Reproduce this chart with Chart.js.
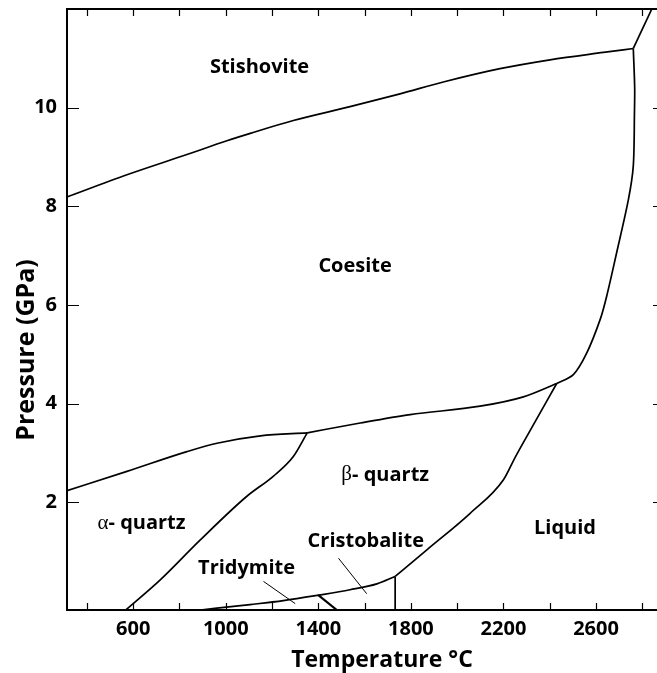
<!DOCTYPE html>
<html>
<head>
<meta charset="utf-8">
<script src="https://cdn.jsdelivr.net/npm/chart.js@4/dist/chart.umd.min.js"></script>
<style>
  html, body { margin: 0; padding: 0; background: #fff; overflow: hidden; }
</style>
</head>
<body>
<canvas id="phaseChart" width="680" height="673"></canvas>
<script>
//------------------------- AXES ----------------------------------------------

var tempTicks = [400, 600, 800, 1000, 1200, 1400, 1600, 1800, 2000, 2200, 2400, 2600, 2800];
var tempTickLabels = ['', '600', '', '1000', '', '1400', '', '1800', '', '2200', '', '2600', ''];
var pressTicks = [2, 4, 6, 8, 10];
var pressTickLabels = ['2', '4', '6', '8', '10'];
var xTitle = 'Temperature °C';
var yTitle = 'Pressure (GPa)';

//------------------------- PHASE BOUNDARIES (T in °C, P in GPa) --------------

// coesite / stishovite
var stishT = [314, 573, 832, 1005, 1106, 1292, 1537, 1753, 1940, 2185, 2401, 2632, 2761];
var stishP = [8.19, 8.64, 9.05, 9.33, 9.48, 9.74, 10.02, 10.28, 10.52, 10.79, 10.97, 11.12, 11.20];
// stishovite / liquid
var stishLiqT = [2761, 2841];
var stishLiqP = [11.20, 12.0];
// coesite / liquid (not a function of T, drawn top to bottom)
var coesLiqT = [2761, 2767, 2766, 2761, 2740, 2689, 2646, 2618, 2560, 2502, 2430];
var coesLiqP = [11.20, 10.40, 9.90, 8.82, 8.14, 7.06, 6.18, 5.71, 5.03, 4.59, 4.41];
// alpha quartz / coesite
var alphaCoesT = [314, 573, 832, 962, 1150, 1352];
var alphaCoesP = [2.24, 2.63, 3.03, 3.20, 3.35, 3.41];
// beta quartz / coesite
var betaCoesT = [1352, 1581, 1797, 2099, 2286, 2430];
var betaCoesP = [3.41, 3.61, 3.78, 3.95, 4.14, 4.41];
// alpha / beta quartz
var alphaBetaT = [568, 717, 890, 1090, 1205, 1292, 1352];
var alphaBetaP = [-0.18, 0.43, 1.24, 2.12, 2.53, 2.93, 3.41];
// beta quartz / liquid
var betaLiqT = [1732, 1869, 2056, 2200, 2250, 2301, 2430];
var betaLiqP = [0.50, 1.04, 1.78, 2.46, 2.91, 3.34, 4.41];
// cristobalite / liquid
var cristLiqT = [1732, 1732];
var cristLiqP = [0.50, -0.18];
// beta quartz / tridymite + cristobalite
var lowT = [890, 1105, 1249, 1400, 1537, 1653, 1732];
var lowP = [-0.18, -0.07, 0.01, 0.12, 0.23, 0.35, 0.50];
// tridymite / cristobalite
var tridCristT = [1400, 1480];
var tridCristP = [0.12, -0.18];

//------------------------- REGION NAMES -------------------------------------

var regionNames = ['Stishovite', 'Coesite', 'β- quartz', 'α- quartz', 'Tridymite', 'Cristobalite', 'Liquid'];
var regionT = [1146, 1559, 1689, 636, 1090, 1605, 2466];
var regionP = [10.82, 6.78, 2.56, 1.57, 0.67, 1.21, 1.48];

// leader lines from labels to the small fields
var tridLeaderT = [1163, 1300];
var tridLeaderP = [0.40, -0.05];
var cristLeaderT = [1487, 1609];
var cristLeaderP = [0.87, 0.15];

//------------------------- BUILD CHART --------------------------------------

function pts(ts, ps) {
    var out = [];
    for (let i = 0; i < ts.length; i++) {
        out.push({ x: ts[i], y: ps[i] });
    }
    return out;
}

function line(ts, ps, width, mode) {
    var ds = {
        data: pts(ts, ps),
        showLine: true,
        borderColor: '#000',
        borderWidth: width,
        pointRadius: 0,
        tension: 0,
        fill: false
    };
    if (mode == 'mono') {
        ds.cubicInterpolationMode = 'monotone';
        ds.tension = 0.4;
    } else if (mode == 'spline') {
        ds.tension = 0.3;
    }
    return ds;
}

var boldFont = '"Open Sans", "DejaVu Sans", sans-serif';

// frame, inward ticks, axis titles and region names
var phasePlugin = {
    id: 'phasePlugin',
    afterDatasetsDraw(chart) {
        var ctx = chart.ctx;
        var a = chart.chartArea;
        var xs = chart.scales.x;
        var ys = chart.scales.y;
        ctx.save();
        ctx.strokeStyle = '#000';
        ctx.lineWidth = 2;
        ctx.strokeRect(a.left, a.top, a.right - a.left, a.bottom - a.top);

        ctx.lineWidth = 1.2;
        ctx.beginPath();
        for (let i = 0; i < tempTicks.length; i++) {
            let px = Math.round(xs.getPixelForValue(tempTicks[i])) + 0.5;
            ctx.moveTo(px, a.bottom);
            ctx.lineTo(px, a.bottom - 7);
            ctx.moveTo(px, a.top);
            ctx.lineTo(px, a.top + 7);
        }
        for (let i = 0; i < pressTicks.length; i++) {
            let py = Math.round(ys.getPixelForValue(pressTicks[i])) + 0.5;
            ctx.moveTo(a.left, py);
            ctx.lineTo(a.left + 12, py);
            ctx.moveTo(a.right, py);
            ctx.lineTo(a.right - 12, py);
        }
        ctx.stroke();

        ctx.fillStyle = '#000';
        ctx.textBaseline = 'middle';

        // axis titles
        ctx.textAlign = 'center';
        ctx.font = 'bold 23px ' + boldFont;
        ctx.fillText(xTitle, a.left + 315, a.bottom + 50);
        ctx.save();
        ctx.translate(27, a.top + 341);
        ctx.rotate(-Math.PI / 2);
        ctx.font = 'bold 25px ' + boldFont;
        ctx.fillText(yTitle, 0, 0);
        ctx.restore();

        ctx.textAlign = 'left';
        for (let i = 0; i < regionNames.length; i++) {
            let cx = xs.getPixelForValue(regionT[i]);
            let cy = ys.getPixelForValue(regionP[i]);
            let name = regionNames[i];
            let greek = '';
            if (name[0] == 'α' || name[0] == 'β') {
                greek = name[0];
                name = name.slice(1);
            }
            let gFont = '21px "Liberation Serif", serif';
            let bFont = 'bold 20px ' + boldFont;
            ctx.font = gFont;
            let gw = greek ? ctx.measureText(greek).width : 0;
            ctx.font = bFont;
            let bw = ctx.measureText(name).width;
            let x0 = cx - (gw + bw) / 2;
            if (greek) {
                ctx.font = gFont;
                ctx.fillText(greek, x0, cy);
            }
            ctx.font = bFont;
            ctx.fillText(name, x0 + gw, cy);
        }
        ctx.restore();
    }
};

var ctx = document.getElementById('phaseChart').getContext('2d');
var chart = new Chart(ctx, {
    type: 'scatter',
    data: {
        datasets: [
            line(stishT, stishP, 1.7, 'mono'),
            line(stishLiqT, stishLiqP, 1.7, 'straight'),
            line(coesLiqT, coesLiqP, 1.7, 'spline'),
            line(alphaCoesT, alphaCoesP, 1.7, 'mono'),
            line(betaCoesT, betaCoesP, 1.7, 'mono'),
            line(alphaBetaT, alphaBetaP, 1.7, 'mono'),
            line(betaLiqT, betaLiqP, 1.7, 'mono'),
            line(cristLiqT, cristLiqP, 1.7, 'straight'),
            line(lowT, lowP, 1.7, 'mono'),
            line(tridCristT, tridCristP, 2.2, 'straight'),
            line(tridLeaderT, tridLeaderP, 1, 'straight'),
            line(cristLeaderT, cristLeaderP, 1, 'straight')
        ]
    },
    options: {
        responsive: false,
        animation: false,
        devicePixelRatio: 1,
        layout: { padding: { top: 9, right: 15, left: 0, bottom: 0 } },
        plugins: { legend: { display: false }, tooltip: { enabled: false } },
        scales: {
            x: {
                type: 'linear',
                position: 'bottom',
                min: 314,
                max: 2898,
                grid: { display: false, drawTicks: false },
                border: { display: false },
                ticks: {
                    color: '#000',
                    font: { family: boldFont, weight: 'bold', size: 20 },
                    padding: 7,
                    maxRotation: 0,
                    autoSkip: false,
                    callback: function (value) {
                        let k = tempTicks.indexOf(value);
                        return k >= 0 ? tempTickLabels[k] : '';
                    }
                },
                afterBuildTicks: function (scale) {
                    scale.ticks = tempTicks.map(v => ({ value: v }));
                },
                afterFit: function (scale) {
                    scale.height = 63;
                    scale.paddingLeft = 0;
                    scale.paddingRight = 0;
                }
            },
            y: {
                type: 'linear',
                position: 'left',
                min: -0.18,
                max: 12.0,
                grid: { display: false, drawTicks: false },
                border: { display: false },
                ticks: {
                    color: '#000',
                    font: { family: boldFont, weight: 'bold', size: 20 },
                    padding: 10,
                    autoSkip: false,
                    callback: function (value) {
                        let k = pressTicks.indexOf(value);
                        return k >= 0 ? pressTickLabels[k] : '';
                    }
                },
                afterBuildTicks: function (scale) {
                    scale.ticks = pressTicks.map(v => ({ value: v }));
                },
                afterFit: function (scale) {
                    scale.width = 67;
                    scale.paddingTop = 0;
                    scale.paddingBottom = 0;
                }
            }
        }
    },
    plugins: [phasePlugin]
});
</script>
</body>
</html>
